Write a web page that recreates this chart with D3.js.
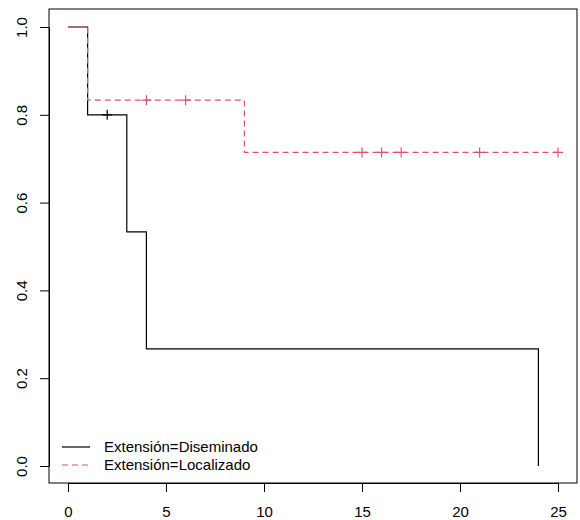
<!DOCTYPE html>
<html lang="es">
<head>
<meta charset="UTF-8">
<title>Kaplan-Meier por extensión</title>
<script src="https://d3js.org/d3.v7.min.js"></script>
<style>
  body { margin: 0; background: #fff; }
  svg text { font-family: "Liberation Sans", Arial, sans-serif; font-size: 15px; fill: #000; }
</style>
</head>
<body>
<div id="chart"></div>
<script>
// Diseminado (solid black)
const disTimes = [0, 1, 3, 4, 24];
const disSurv = [1, 0.8, 0.5333, 0.2667, 0];
const disCensorTimes = [2];
const disCensorSurv = [0.8];

// Localizado (dashed red)
const locTimes = [0, 1, 9, 25];
const locSurv = [1, 0.8333, 0.7143, 0.7143];
const locCensorTimes = [4, 6, 15, 16, 17, 21, 25];
const locCensorSurv = [0.8333, 0.8333, 0.7143, 0.7143, 0.7143, 0.7143, 0.7143];

const xTicks = [0, 5, 10, 15, 20, 25];
const yTicks = [0, 0.2, 0.4, 0.6, 0.8, 1.0];
const legendLabels = ["Extensión=Diseminado", "Extensión=Localizado"];

const width = 580, height = 520;
const box = { left: 49, top: 9, right: 577, bottom: 483 };
const red = "#DF536B";

const svg = d3.select("#chart").append("svg")
    .attr("width", width)
    .attr("height", height);

const x = d3.scaleLinear().domain([0, 25]).range([68, 558]);
const y = d3.scaleLinear().domain([0, 1]).range([466, 27]);

// plot box
svg.append("rect")
    .attr("x", box.left).attr("y", box.top)
    .attr("width", box.right - box.left).attr("height", box.bottom - box.top)
    .attr("fill", "none").attr("stroke", "#000").attr("stroke-width", 1);

// x axis
const xAxis = svg.append("g")
    .attr("transform", `translate(0,${box.bottom})`)
    .call(d3.axisBottom(x).tickValues(xTicks).tickSize(9).tickSizeOuter(0).tickPadding(14));
xAxis.selectAll("path, line").attr("stroke", "#000");
xAxis.selectAll("text").style("font-size", "15px").attr("font-family", null);

// y axis (rotated labels like R)
const yAxis = svg.append("g")
    .attr("transform", `translate(${box.left},0)`)
    .call(d3.axisLeft(y).tickValues(yTicks).tickSize(9).tickSizeOuter(0).tickFormat(d3.format(".1f")));
yAxis.selectAll("path, line").attr("stroke", "#000");
yAxis.selectAll("text")
    .attr("x", null).attr("dy", null)
    .attr("text-anchor", "middle")
    .attr("transform", "translate(-22,0) rotate(-90) translate(0,-5)")
    .attr("dy", "0.35em");

const line = d3.line()
    .x(d => x(d[0]))
    .y(d => y(d[1]))
    .curve(d3.curveStepAfter);

function drawCurve(times, surv, cTimes, cSurv, color, dash) {
    svg.append("path")
        .datum(d3.zip(times, surv))
        .attr("d", line)
        .attr("fill", "none")
        .attr("stroke", color)
        .attr("stroke-width", 1.2)
        .attr("stroke-dasharray", dash);

    const marks = svg.append("g").selectAll("path")
        .data(d3.zip(cTimes, cSurv))
        .join("path")
        .attr("d", d => {
            const cx = x(d[0]), cy = y(d[1]);
            return `M${cx - 5},${cy}H${cx + 5}M${cx},${cy - 5}V${cy + 5}`;
        })
        .attr("stroke", color)
        .attr("stroke-width", 1.2);
}

drawCurve(disTimes, disSurv, disCensorTimes, disCensorSurv, "#000", null);
drawCurve(locTimes, locSurv, locCensorTimes, locCensorSurv, red, "6,4");

// legend
const legend = svg.append("g").selectAll("g")
    .data(legendLabels)
    .join("g")
    .attr("transform", (d, i) => `translate(0,${447 + i * 18})`);

legend.append("line")
    .attr("x1", 62).attr("x2", 90)
    .attr("y1", 0).attr("y2", 0)
    .attr("stroke", (d, i) => i === 0 ? "#000" : red)
    .attr("stroke-width", 1.2)
    .attr("stroke-dasharray", (d, i) => i === 0 ? null : "6,4");

legend.append("text")
    .attr("x", 104)
    .attr("dy", "0.35em")
    .text(d => d);
</script>
</body>
</html>
